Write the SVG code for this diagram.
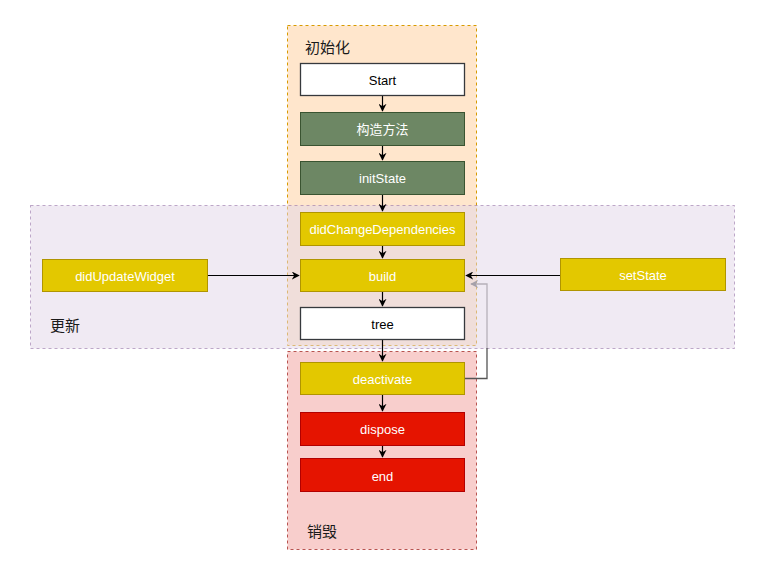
<svg xmlns="http://www.w3.org/2000/svg" width="771" height="584" viewBox="0 0 771 584">
<defs>
<style>
.cont-init{fill:#ffe6cc;stroke:#d79b00;stroke-dasharray:3 3;stroke-width:1}
.cont-upd{fill:#e1d5e7;fill-opacity:0.5;stroke:#9673a6;stroke-opacity:0.6;stroke-dasharray:3 3;stroke-width:1}
.cont-des{fill:#f8cecc;stroke:#b85450;stroke-dasharray:3 3;stroke-width:1}
.white{fill:#ffffff;stroke:#36393d;stroke-width:1.3}
.green{fill:#6d8764;stroke:#3a5431;stroke-width:1}
.yellow{fill:#e3c800;stroke:#b09500;stroke-width:1}
.red{fill:#e51400;stroke:#b20000;stroke-width:1}
.lbl{font-family:"Liberation Sans","Noto Sans CJK SC",Arial,sans-serif;font-size:13px;text-anchor:middle;dominant-baseline:central}
.lw{fill:#ffffff}
.lb{fill:#000000}
.clbl{font-family:"Liberation Sans","Noto Sans CJK SC",sans-serif;font-size:15px;fill:#1a1a1a}
.edge{fill:none;stroke:#000000;stroke-width:1.2}
</style>
<marker id="arr" viewBox="0 0 10 10" refX="9" refY="5" markerWidth="8" markerHeight="8" markerUnits="userSpaceOnUse" orient="auto">
<path d="M0,0 L10,5 L0,10 L3,5 Z" fill="#000"/>
</marker>
<marker id="arrg" viewBox="0 0 10 10" refX="9" refY="5" markerWidth="8" markerHeight="8" markerUnits="userSpaceOnUse" orient="auto">
<path d="M0,0 L10,5 L0,10 L3,5 Z" fill="#6a6a6a"/>
</marker>
</defs>
<rect width="771" height="584" fill="#ffffff"/>

<g id="init-container">
<rect class="cont-init" x="287.5" y="25.5" width="189" height="320"/>
<text class="clbl" x="305" y="53">初始化</text>
</g>
<g id="destroy-container">
<rect class="cont-des" x="287.5" y="351.5" width="189" height="198"/>
<text class="clbl" x="307" y="537">销毁</text>
</g>

<g id="update-return">
<path d="M487,348 L487,284 L471,284" fill="none" stroke="#8a8a8a" stroke-width="1.3" marker-end="url(#arrg)"/>
</g>

<g id="update-container">
<rect class="cont-upd" x="30.5" y="205.5" width="704" height="143"/>
<text class="clbl" x="50" y="331">更新</text>
</g>

<g id="connectors">
<path class="edge" d="M382.5,96 L382.5,111" marker-end="url(#arr)"/>
<path class="edge" d="M382.5,145 L382.5,160" marker-end="url(#arr)"/>
<path class="edge" d="M382.5,194 L382.5,211" marker-end="url(#arr)"/>
<path class="edge" d="M382.5,245 L382.5,258" marker-end="url(#arr)"/>
<path class="edge" d="M382.5,292 L382.5,306" marker-end="url(#arr)"/>
<path class="edge" d="M382.5,340 L382.5,361" marker-end="url(#arr)"/>
<path class="edge" d="M382.5,395 L382.5,411" marker-end="url(#arr)"/>
<path class="edge" d="M382.5,446 L382.5,457" marker-end="url(#arr)"/>
<path class="edge" d="M208,275.5 L299,275.5" marker-end="url(#arr)"/>
<path class="edge" d="M560,275.5 L466,275.5" marker-end="url(#arr)"/>
<path d="M465,378.5 L487,378.5 L487,348" fill="none" stroke="#555555" stroke-width="1.3"/>
</g>

<g id="start"><rect class="white" x="300.5" y="63.5" width="164" height="32"/><text class="lbl lb" x="382.5" y="80">Start</text></g>
<g id="constructor"><rect class="green" x="300.5" y="112.5" width="164" height="33"/><text class="lbl lw" x="382.5" y="129">构造方法</text></g>
<g id="initState"><rect class="green" x="300.5" y="161.5" width="164" height="33"/><text class="lbl lw" x="382.5" y="178">initState</text></g>
<g id="didChangeDependencies"><rect class="yellow" x="300.5" y="212.5" width="164" height="33"/><text class="lbl lw" x="382.5" y="229">didChangeDependencies</text></g>
<g id="build"><rect class="yellow" x="300.5" y="259.5" width="164" height="32"/><text class="lbl lw" x="382.5" y="276">build</text></g>
<g id="tree"><rect class="white" x="300.5" y="307.5" width="164" height="32"/><text class="lbl lb" x="382.5" y="324">tree</text></g>
<g id="deactivate"><rect class="yellow" x="300.5" y="362.5" width="164" height="32"/><text class="lbl lw" x="382.5" y="379">deactivate</text></g>
<g id="dispose"><rect class="red" x="300.5" y="412.5" width="164" height="33"/><text class="lbl lw" x="382.5" y="429">dispose</text></g>
<g id="end"><rect class="red" x="300.5" y="458.5" width="164" height="33"/><text class="lbl lw" x="382.5" y="476">end</text></g>
<g id="didUpdateWidget"><rect class="yellow" x="42.5" y="259.5" width="165" height="32"/><text class="lbl lw" x="125" y="276">didUpdateWidget</text></g>
<g id="setState"><rect class="yellow" x="560.5" y="258.5" width="165" height="32"/><text class="lbl lw" x="643" y="275">setState</text></g>
</svg>
